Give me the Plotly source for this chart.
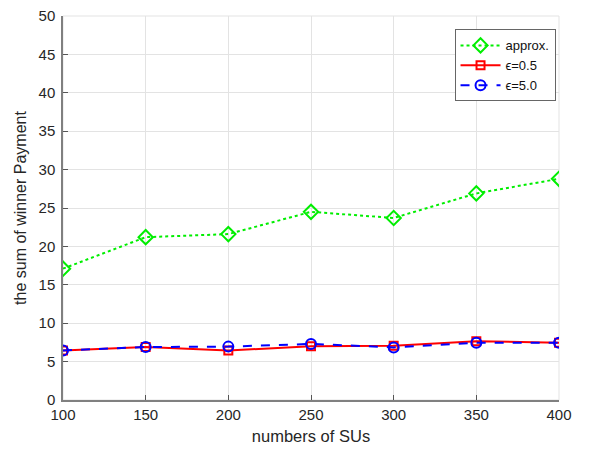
import plotly.graph_objects as go

sus = [100, 150, 200, 250, 300, 350, 400]
approx = [17.1, 21.2, 21.6, 24.5, 23.7, 26.9, 28.8]
eps_05 = [6.45, 6.9, 6.45, 7.0, 7.05, 7.65, 7.45]
eps_50 = [6.45, 6.9, 6.95, 7.3, 6.85, 7.45, 7.45]

x_ticks = [100, 150, 200, 250, 300, 350, 400]
y_ticks = list(range(0, 51, 5))

AX = "#262626"
GRID = "#e3e3e3"
FONT = "Liberation Sans, Arial, sans-serif"

fig = go.Figure()
fig.add_trace(go.Scatter(
    x=sus, y=approx, name="approx.", mode="lines+markers",
    line=dict(color="#00ee00", width=2, dash="dot"),
    marker=dict(symbol="diamond-open", size=11, color="#00ee00", line=dict(width=2, color="#00ee00")),
))
fig.add_trace(go.Scatter(
    x=sus, y=eps_05, name="\u03f5=0.5", mode="lines+markers",
    line=dict(color="#ff0000", width=2),
    marker=dict(symbol="square-open", size=8, color="#ff0000", line=dict(width=2, color="#ff0000")),
))
fig.add_trace(go.Scatter(
    x=sus, y=eps_50, name="\u03f5=5.0", mode="lines+markers",
    line=dict(color="#0000ff", width=2, dash="dash"),
    marker=dict(symbol="circle-open", size=10, color="#0000ff", line=dict(width=2, color="#0000ff")),
))

fig.update_layout(
    width=600, height=449,
    margin=dict(l=55, r=49, t=8, b=57, autoexpand=False),
    paper_bgcolor="white", plot_bgcolor="white",
    font=dict(family=FONT, size=14, color=AX),
    showlegend=True,
    legend=dict(
        x=0.993, y=0.965, xanchor="right", yanchor="top",
        bgcolor="white", bordercolor="#666666", borderwidth=1,
        font=dict(size=13, color="#111111"),
        tracegroupgap=0, itemwidth=40,
    ),
    shapes=[dict(type="rect", xref="paper", yref="paper", x0=0, y0=0, x1=1, y1=1,
                 line=dict(color=GRID, width=1), layer="below")],
)
fig.update_xaxes(
    range=[100, 400], tickvals=x_ticks, ticktext=[str(v) for v in x_ticks],
    showgrid=True, gridcolor=GRID, gridwidth=1,
    showline=True, linecolor="#808080", linewidth=1.5,
    ticks="inside", ticklen=5, tickcolor="#555555",
    zeroline=False, automargin=False, ticklabeloverflow="allow",
    title=dict(text="numbers of SUs", font=dict(size=16.5), standoff=9),
    tickfont=dict(size=15),
)
fig.update_yaxes(
    range=[0, 50], tickvals=y_ticks, ticktext=[str(v) for v in y_ticks],
    showgrid=True, gridcolor=GRID, gridwidth=1,
    showline=True, linecolor="#808080", linewidth=1.5,
    ticks="inside", ticklen=5, tickcolor="#555555",
    zeroline=False, automargin=False, ticklabelstandoff=3, ticklabeloverflow="allow",
    title=dict(text="the sum of winner Payment", font=dict(size=16), standoff=8),
    tickfont=dict(size=15),
)

fig.write_html("out.html")
